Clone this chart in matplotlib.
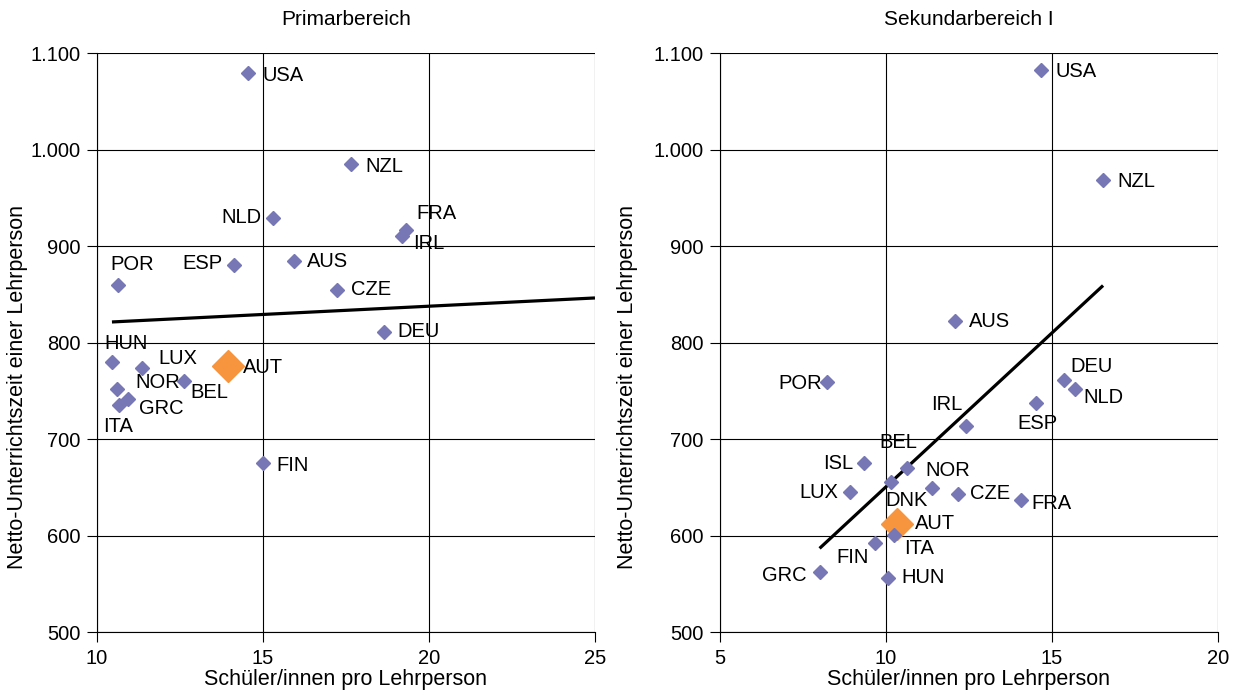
import numpy as np
import matplotlib
matplotlib.use('Agg')
import matplotlib.pyplot as plt
from matplotlib.ticker import FuncFormatter

plt.rcParams['font.family'] = ['Liberation Sans', 'DejaVu Sans']

# Primarbereich
PRIM_LAND = ['USA', 'NZL', 'NLD', 'FRA', 'IRL', 'ESP', 'AUS', 'POR', 'CZE', 'DEU',
             'HUN', 'LUX', 'AUT', 'BEL', 'NOR', 'GRC', 'ITA', 'FIN']
PRIM_X = [14.55, 17.65, 15.3, 19.31, 19.19, 14.13, 15.93, 10.63, 17.23, 18.64,
          10.45, 11.36, 13.95, 12.62, 10.6, 10.93, 10.66, 15.0]
PRIM_Y = [1079, 985, 929, 917, 910, 880, 885, 860, 855, 811,
          780, 774, 776, 760, 752, 742, 735, 675]
PRIM_TREND = [1.71, 803.5]   # slope, intercept

# Sekundarbereich I
SEK_LAND = ['USA', 'NZL', 'AUS', 'POR', 'DEU', 'NLD', 'ESP', 'IRL', 'ISL', 'BEL',
            'NOR', 'DNK', 'LUX', 'CZE', 'FRA', 'AUT', 'ITA', 'FIN', 'GRC', 'HUN']
SEK_X = [14.67, 16.54, 12.08, 8.22, 15.36, 15.69, 14.52, 12.41, 9.34, 10.63,
         11.39, 10.15, 8.92, 12.17, 14.07, 10.33, 10.24, 9.67, 8.0, 10.06]
SEK_Y = [1082, 968, 822, 759, 761, 752, 737, 714, 675, 670,
         649, 656, 645, 643, 637, 612, 601, 592, 562, 556]
SEK_TREND = [31.9, 331.5]

# label offsets in pixels (dx, dy, ha)
PRIM_OFF = {'USA': (14, -2, 'left'), 'NZL': (14, -2, 'left'), 'NLD': (-11, 1, 'right'),
            'FRA': (10, 16, 'left'), 'IRL': (11, -7, 'left'), 'ESP': (-12, 2, 'right'),
            'AUS': (13, -1, 'left'), 'POR': (-8, 20, 'left'), 'CZE': (14, 0, 'left'),
            'DEU': (14, 0, 'left'), 'HUN': (-8, 18, 'left'), 'LUX': (16, 9, 'left'),
            'AUT': (15, -2, 'left'), 'BEL': (6, -11, 'left'), 'NOR': (18, 6, 'left'),
            'GRC': (11, -10, 'left'), 'ITA': (-16, -21, 'left'), 'FIN': (13, -2, 'left')}
SEK_OFF = {'USA': (15, -1, 'left'), 'NZL': (14, -1, 'left'), 'AUS': (14, 0, 'left'),
           'POR': (-5, -1, 'right'), 'DEU': (6, 14, 'left'), 'NLD': (9, -9, 'left'),
           'ESP': (1, -20, 'center'), 'IRL': (-4, 21, 'right'), 'ISL': (-11, 0, 'right'),
           'BEL': (-9, 26, 'center'), 'NOR': (-7, 18, 'left'), 'DNK': (-6, -19, 'left'),
           'LUX': (-12, 0, 'right'), 'CZE': (12, 1, 'left'), 'FRA': (10, -4, 'left'),
           'AUT': (18, 0, 'left'), 'ITA': (10, -14, 'left'), 'FIN': (-6, -14, 'right'),
           'GRC': (-13, -3, 'right'), 'HUN': (13, 0, 'left')}

BLUE = '#7777b5'
ORANGE = '#f7953f'
FS = 14.5


def fmt(v, pos):
    return '{:,.0f}'.format(v).replace(',', '.')


def panel(ax, title, land, xs, ys, trend, offs, xlim, xticks, trend_to, ylab_x):
    for l, x, y in zip(land, xs, ys):
        if l == 'AUT':
            ax.plot(x, y, 'D', color=ORANGE, ms=16, zorder=4)
        else:
            ax.plot(x, y, 'D', color=BLUE, ms=7.5, zorder=4)
        dx, dy, ha = offs[l]
        ax.annotate(l, (x, y), xytext=(dx, dy), textcoords='offset pixels',
                    ha=ha, va='center', fontsize=FS, zorder=5)
    x0 = min(xs)
    x1 = trend_to if trend_to is not None else max(xs)
    tx = np.array([x0, x1])
    ax.plot(tx, trend[0] * tx + trend[1], color='black', lw=2.3, zorder=3,
            solid_capstyle='butt')
    ax.set_xlim(*xlim)
    ax.set_ylim(500, 1100)
    ax.set_xticks(xticks)
    ax.set_yticks(range(500, 1101, 100))
    ax.yaxis.set_major_formatter(FuncFormatter(fmt))
    ax.grid(True, color='black', lw=0.8)
    ax.set_axisbelow(True)
    for s in ax.spines.values():
        s.set_visible(False)
    ax.spines['left'].set_visible(True)
    ax.spines['bottom'].set_visible(True)
    ax.tick_params(labelsize=FS, length=7, width=0.8, direction='out', pad=5)
    ax.set_title(title, fontsize=15, pad=20)
    ax.set_xlabel('Schüler/innen pro Lehrperson', fontsize=15.5, labelpad=1)
    ax.set_ylabel('Netto-Unterrichtszeit einer Lehrperson', fontsize=15.5)
    ax.yaxis.set_label_coords(ylab_x, 0.423)


fig = plt.figure(figsize=(12.39, 7.0), dpi=100)
ax1 = fig.add_axes([0.0783, 0.0971, 0.4019, 0.827])
ax2 = fig.add_axes([0.5811, 0.0971, 0.4019, 0.827])
panel(ax1, 'Primarbereich', PRIM_LAND, PRIM_X, PRIM_Y, PRIM_TREND, PRIM_OFF,
      (10, 25), [10, 15, 20, 25], 25, -0.139)
panel(ax2, 'Sekundarbereich I', SEK_LAND, SEK_X, SEK_Y, SEK_TREND, SEK_OFF,
      (5, 20), [5, 10, 15, 20], None, -0.165)
fig.savefig('out.png', dpi=100)
